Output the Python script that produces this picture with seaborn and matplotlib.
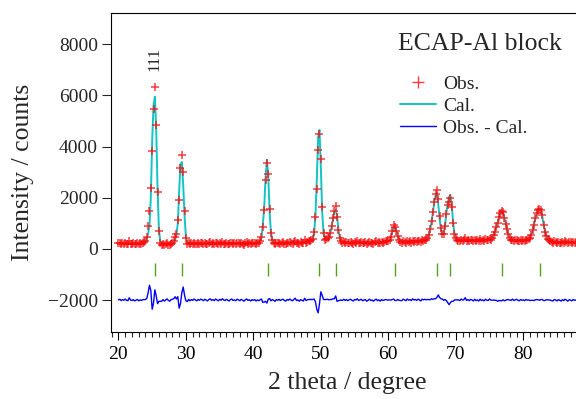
import numpy as np
import pandas as pd
import matplotlib
matplotlib.use("Agg")
import matplotlib.pyplot as plt
from matplotlib.ticker import MultipleLocator
from matplotlib.lines import Line2D
import seaborn as sns

# ---------------- data ----------------
theta_start = 20.0
theta_step = 0.2

obs = [
    220, 245, 195, 230, 205, 250, 200, 185, 300, 210,        # 20.0-21.8
    190, 225, 175, 205, 230, 180, 215, 200, 240, 260,        # 22.0-23.8
    300, 460, 880, 1480, 2380, 3840, 5480, 6350, 4860, 2210,  # 24.0-25.8
    700, 250, 160, 210, 150, 190, 230, 170, 140, 200,        # 26.0-27.8
    230, 300, 480, 600, 1130, 1930, 3160, 3690, 3010, 1490,  # 28.0-29.8
    420, 210, 250, 185, 230, 200, 250, 210, 180, 235,        # 30.0-31.8
    200, 245, 220, 185, 240, 210, 175, 230, 255, 200,        # 32.0-33.8
    225, 190, 250, 215, 180, 235, 205, 260, 210, 190,        # 34.0-35.8
    240, 205, 175, 230, 250, 195, 220, 185, 245, 215,        # 36.0-37.8
    190, 240, 210, 170, 225, 260, 205, 230, 185, 240,        # 38.0-39.8
    215, 250, 200, 245, 230, 300, 460, 860, 1520, 2700,      # 40.0-41.8
    3360, 2930, 1560, 620, 350, 230, 180, 240, 215, 250,     # 42.0-43.8
    205, 240, 260, 210, 190, 250, 225, 270, 230, 205,        # 44.0-45.8
    255, 310, 220, 245, 200, 260, 240, 215, 330, 250,        # 46.0-47.8
    280, 300, 320, 340, 400, 660, 1230, 2340, 3880, 4510,    # 48.0-49.8
    3520, 1630, 620, 360, 380, 420, 480, 640, 900, 1200,     # 50.0-51.8
    1500, 1690, 1250, 750, 420, 300, 250, 280, 230, 260,     # 52.0-53.8
    215, 250, 270, 230, 205, 260, 240, 290, 225, 250,        # 54.0-55.8
    270, 215, 245, 260, 200, 235, 280, 230, 250, 205,        # 56.0-57.8
    255, 290, 230, 265, 220, 280, 250, 270, 300, 290,        # 58.0-59.8
    300, 330, 450, 700, 920, 870, 700, 520, 340, 270,        # 60.0-61.8
    250, 300, 275, 240, 310, 265, 290, 250, 320, 280,        # 62.0-63.8
    300, 265, 320, 290, 255, 330, 310, 340, 330, 420,        # 64.0-65.8
    560, 760, 1100, 1450, 1850, 2150, 2300, 1950, 1300, 800, # 66.0-67.8
    600, 590, 900, 1380, 1700, 1850, 2000, 1650, 1000, 600,  # 68.0-69.8
    420, 340, 320, 290, 350, 310, 330, 410, 300, 340,        # 70.0-71.8
    300, 350, 330, 290, 360, 310, 340, 300, 370, 320,        # 72.0-73.8
    350, 310, 380, 340, 330, 390, 360, 420, 540, 680,        # 74.0-75.8
    850, 1000, 1230, 1420, 1490, 1450, 1200, 980, 780, 570,  # 76.0-77.8
    420, 340, 360, 300, 330, 350, 310, 290, 340, 310,        # 78.0-79.8
    330, 300, 350, 340, 380, 420, 560, 740, 940, 1200,       # 80.0-81.8
    1420, 1540, 1560, 1540, 1320, 950, 680, 520, 400, 330,   # 82.0-83.8
    300, 260, 240, 290, 270, 230, 280, 250, 220, 275,        # 84.0-85.8
    240, 290, 260, 220, 270, 255, 230, 280, 250, 265,        # 86.0-87.8
]

calc = [
    215, 215, 214, 214, 213, 213, 212, 212, 211, 211,
    210, 210, 209, 209, 208, 208, 210, 215, 225, 245,
    280, 400, 600, 900, 2000, 4200, 5600, 5950, 4700, 2350,
    750, 300, 210, 195, 190, 188, 186, 185, 185, 186,
    200, 250, 350, 560, 1000, 2250, 3300, 3400, 2500, 1300,
    450, 270, 225, 215, 212, 211, 210, 210, 210, 210,
    210, 210, 210, 210, 210, 210, 210, 210, 210, 210,
    210, 210, 210, 210, 210, 210, 210, 210, 210, 210,
    212, 212, 212, 212, 212, 212, 212, 212, 212, 212,
    214, 214, 215, 215, 216, 217, 218, 220, 222, 225,
    228, 232, 236, 242, 255, 290, 420, 950, 1600, 2750,
    3480, 2900, 1500, 650, 330, 240, 228, 225, 224, 224,
    225, 226, 227, 228, 229, 230, 231, 232, 233, 234,
    236, 238, 240, 242, 244, 247, 250, 254, 260, 268,
    272, 280, 295, 320, 380, 620, 1300, 2700, 4380, 4650,
    3200, 1450, 600, 340, 360, 390, 470, 620, 880, 1150,
    1450, 1530, 1300, 780, 430, 300, 265, 250, 245, 242,
    240, 240, 240, 240, 240, 240, 240, 241, 241, 242,
    242, 243, 244, 244, 245, 246, 247, 248, 249, 250,
    252, 254, 256, 258, 260, 263, 266, 270, 276, 285,
    300, 325, 450, 680, 880, 890, 720, 500, 350, 290,
    272, 268, 267, 268, 269, 270, 271, 272, 274, 276,
    278, 280, 283, 286, 290, 295, 302, 312, 320, 400,
    540, 750, 1050, 1420, 1800, 2100, 2200, 1750, 1200, 750,
    560, 600, 880, 1400, 1800, 2030, 2100, 1700, 1050, 600,
    410, 335, 315, 310, 310, 312, 314, 316, 318, 320,
    322, 324, 326, 328, 330, 332, 334, 336, 338, 340,
    342, 344, 346, 348, 350, 350, 360, 430, 540, 690,
    860, 1050, 1250, 1440, 1520, 1440, 1230, 990, 760, 560,
    420, 350, 325, 320, 320, 320, 320, 320, 320, 320,
    322, 325, 330, 345, 375, 440, 570, 750, 960, 1190,
    1400, 1530, 1570, 1520, 1300, 970, 700, 510, 390, 330,
    300, 285, 275, 270, 267, 265, 263, 262, 261, 260,
    260, 260, 260, 260, 260, 260, 260, 260, 260, 260,
]

diff_offset = -2000
hkl_positions = [25.4, 29.4, 42.1, 49.8, 52.2, 61.0, 67.2, 69.1, 76.9, 82.5]
hkl_tick_low, hkl_tick_high = -1050, -550

peak_label = "111"
peak_label_pos = (25.3, 7430)
title_text = "ECAP-Al block"
legend_labels = ["Obs.", "Cal.", "Obs. - Cal."]

x_ticks = [20, 30, 40, 50, 60, 70, 80]
y_ticks = [-2000, 0, 2000, 4000, 6000, 8000]

# ---------------- build frame ----------------
two_theta = theta_start + theta_step * np.arange(len(obs))
df = pd.DataFrame({"two_theta": two_theta, "obs": obs, "calc": calc})
df["diff"] = df["obs"] - df["calc"] + diff_offset

# ---------------- style ----------------
sns.set_theme(style="ticks")
plt.rcParams["font.family"] = ["Liberation Serif", "DejaVu Serif"]
plt.rcParams["axes.linewidth"] = 0.8

fig = plt.figure(figsize=(5.76, 3.99), dpi=100)
ax = fig.add_axes([111 / 576, 67 / 399, 473 / 576, 319 / 399])

c_obs = "#ff0a0a"
c_cal = "#12c4c4"
c_diff = "#0000ff"
c_hkl = "#5aa028"

sns.lineplot(data=df, x="two_theta", y="calc", ax=ax, color=c_cal, lw=1.4,
             zorder=2, legend=False)
sns.lineplot(data=df, x="two_theta", y="diff", ax=ax, color=c_diff, lw=1.0,
             zorder=2, legend=False)
sns.scatterplot(data=df, x="two_theta", y="obs", ax=ax, marker="+", color=c_obs,
                s=30, linewidth=1.1, alpha=0.8, zorder=3, legend=False)
ax.vlines(hkl_positions, hkl_tick_low, hkl_tick_high, color=c_hkl, lw=1.0, zorder=2)

ax.set_xlim(18.9, 89.0)
ax.set_ylim(-3250, 9225)
ax.set_xticks(x_ticks)
ax.set_yticks(y_ticks)
ax.xaxis.set_minor_locator(MultipleLocator(1))
ax.tick_params(axis="x", which="major", direction="out", length=5.8, width=0.8,
               labelsize=14, pad=4, colors="black")
ax.tick_params(axis="x", which="minor", direction="out", length=3.6, width=0.8)
ax.tick_params(axis="y", which="major", direction="out", length=6.5, width=0.8,
               labelsize=14, pad=3)
for s in ["left", "bottom", "top", "right"]:
    ax.spines[s].set_visible(True)
    ax.spines[s].set_color("black")

ax.set_xlabel("2 theta / degree", fontsize=18.5)
ax.set_ylabel("Intensity / counts", fontsize=18.5)
ax.xaxis.set_label_coords(0.5, -0.125)
ax.yaxis.set_label_coords(-0.163, 0.5)

ax.text(peak_label_pos[0], peak_label_pos[1], peak_label, rotation=90,
        ha="center", va="center", fontsize=12)
ax.text(0.779, 0.884, title_text, transform=ax.transAxes, ha="center",
        va="baseline", fontsize=18.5)

handles = [
    Line2D([], [], ls="none", marker="+", color=c_obs, markersize=8, mew=1.0, alpha=0.8),
    Line2D([], [], color=c_cal, lw=1.4),
    Line2D([], [], color=c_diff, lw=1.0),
]
ax.legend(handles, legend_labels, loc="upper left", bbox_to_anchor=(0.611, 0.805),
          frameon=False, fontsize=14, handlelength=1.85, handletextpad=0.36,
          labelspacing=0.23, borderpad=0, borderaxespad=0)

fig.savefig("out.png", dpi=100)
